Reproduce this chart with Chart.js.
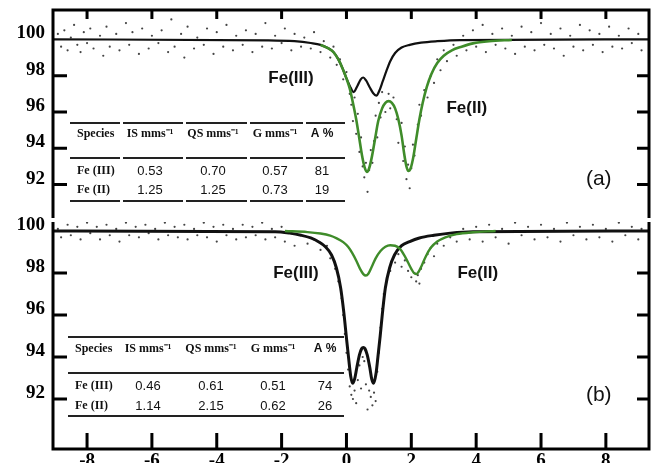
<!DOCTYPE html>
<html>
<head>
<meta charset="utf-8">
<script src="https://cdn.jsdelivr.net/npm/chart.js@4.4.0/dist/chart.umd.min.js"></script>
<style>
  html, body { margin: 0; padding: 0; background: #fff; }
  #wrap { position: relative; width: 658px; height: 463px; overflow: hidden; }
  canvas { position: absolute; left: 0; }
  #chartA { top: 0; }
  #chartB { top: 200px; }
</style>
</head>
<body>
<div id="wrap">
  <canvas id="chartA" width="658" height="222"></canvas>
  <canvas id="chartB" width="658" height="263"></canvas>
</div>
<script>
// axis ticks
const velocityTicks = [-8, -6, -4, -2, 0, 2, 4, 6, 8];
const transTicks = [92, 94, 96, 98, 100];

// panel (a) fitted curves (velocity mm/s, transmission %)
const fitA_Fe3_x = [-9.05, -2.4, -1.6, -1.1, -0.8, -0.55, -0.4, -0.25, -0.12, 0.0, 0.1, 0.22, 0.34, 0.44, 0.52, 0.6, 0.72, 0.82, 0.92, 1.02, 1.12, 1.23, 1.35, 1.5, 1.7, 1.95, 2.3, 2.8, 3.5, 9.33];
const fitA_Fe3_y = [100.0, 99.95, 99.9, 99.8, 99.7, 99.5, 99.3, 98.9, 98.4, 97.85, 97.45, 97.1, 97.45, 97.8, 97.9, 97.75, 97.35, 97.05, 96.9, 97.2, 97.7, 98.25, 98.8, 99.25, 99.55, 99.7, 99.82, 99.9, 99.96, 100.0];
const fitA_Fe2_x = [-0.8, -0.55, -0.4, -0.25, -0.12, 0.0, 0.1, 0.2, 0.3, 0.4, 0.48, 0.56, 0.63, 0.7, 0.78, 0.88, 0.98, 1.1, 1.2, 1.3, 1.4, 1.5, 1.6, 1.7, 1.78, 1.85, 1.91, 1.98, 2.06, 2.15, 2.25, 2.35, 2.48, 2.62, 2.8, 3.0, 3.25, 3.55, 3.9, 4.4, 5.1];
const fitA_Fe2_y = [99.7, 99.5, 99.3, 98.9, 98.4, 97.85, 97.3, 96.5, 95.6, 94.5, 93.6, 92.95, 92.7, 92.9, 93.5, 94.5, 95.5, 96.2, 96.5, 96.6, 96.5, 96.2, 95.6, 94.7, 93.7, 93.0, 92.75, 92.9, 93.5, 94.5, 95.6, 96.5, 97.4, 98.1, 98.7, 99.1, 99.4, 99.6, 99.78, 99.9, 99.97];

// panel (b) fitted curves
const fitB_Fe3_x = [-9.05, -2.2, -1.75, -1.4, -1.1, -0.85, -0.65, -0.46, -0.31, -0.18, -0.08, 0.0, 0.07, 0.13, 0.19, 0.25, 0.32, 0.4, 0.47, 0.52, 0.57, 0.64, 0.72, 0.78, 0.84, 0.91, 0.97, 1.04, 1.11, 1.2, 1.33, 1.48, 1.7, 1.95, 2.25, 2.7, 3.2, 3.9, 9.33];
const fitB_Fe3_y = [100.0, 99.97, 99.9, 99.8, 99.67, 99.48, 99.25, 98.86, 98.24, 97.3, 96.1, 94.9, 93.9, 93.1, 92.75, 92.95, 93.5, 94.1, 94.4, 94.45, 94.4, 94.1, 93.5, 92.95, 92.75, 93.2, 94.0, 95.0, 96.1, 97.3, 98.24, 98.86, 99.3, 99.5, 99.67, 99.8, 99.9, 99.97, 100.0];
const fitB_Fe2_x = [-1.9, -1.2, -0.8, -0.5, -0.3, -0.1, 0.05, 0.18, 0.3, 0.42, 0.52, 0.6, 0.68, 0.78, 0.9, 1.05, 1.2, 1.35, 1.5, 1.65, 1.78, 1.9, 2.0, 2.08, 2.15, 2.22, 2.32, 2.45, 2.6, 2.8, 3.05, 3.4, 3.9, 4.6];
const fitB_Fe2_y = [100.0, 99.95, 99.88, 99.78, 99.65, 99.47, 99.25, 98.95, 98.6, 98.2, 97.95, 97.88, 97.98, 98.3, 98.7, 99.05, 99.25, 99.32, 99.3, 99.15, 98.85, 98.5, 98.2, 98.0, 97.95, 98.05, 98.35, 98.8, 99.2, 99.5, 99.7, 99.85, 99.94, 100.0];

const rawA = [[-8.9,100.3],[-8.8,99.6],[-8.7,100.5],[-8.6,99.4],[-8.5,100.1],[-8.4,100.8],[-8.3,99.7],[-8.2,99.3],[-8.1,100.4],[-8.0,99.8],[-7.9,100.6],[-7.8,99.5],[-7.6,100.2],[-7.5,99.1],[-7.4,100.7],[-7.3,99.6],[-7.1,100.3],[-7.0,99.4],[-6.8,100.9],[-6.7,99.7],[-6.6,100.4],[-6.4,99.2],[-6.3,100.6],[-6.1,99.5],[-6.0,100.2],[-5.8,99.8],[-5.7,100.5],[-5.5,99.3],[-5.4,101.1],[-5.3,99.6],[-5.1,100.3],[-5.0,99.0],[-4.9,100.7],[-4.7,99.5],[-4.6,100.1],[-4.4,99.7],[-4.3,100.6],[-4.1,99.2],[-4.0,100.4],[-3.8,99.6],[-3.7,100.8],[-3.5,99.4],[-3.4,100.2],[-3.2,99.7],[-3.1,100.5],[-2.9,99.3],[-2.8,100.3],[-2.6,99.6],[-2.5,100.9],[-2.3,99.5],[-2.2,100.2],[-2.0,99.8],[-1.9,100.6],[-1.7,99.4],[-1.6,100.3],[-1.4,99.6],[-1.3,100.1],[-1.1,99.5],[-1.0,100.4],[-0.8,99.3],[-0.7,99.9],[-0.5,99.0],[-0.4,99.6],[-0.3,98.6],[-0.2,98.9],[-0.1,97.8],[0.0,98.2],[0.1,97.0],[0.15,96.4],[0.2,95.5],[0.25,96.8],[0.3,94.8],[0.35,95.9],[0.4,93.8],[0.45,94.6],[0.5,93.0],[0.55,92.4],[0.6,93.2],[0.65,91.6],[0.7,92.8],[0.75,93.9],[0.8,93.2],[0.85,94.4],[0.9,95.8],[0.95,94.6],[1.0,96.5],[1.05,95.7],[1.1,97.1],[1.2,96.0],[1.3,97.0],[1.35,96.2],[1.45,96.8],[1.55,95.6],[1.6,94.3],[1.7,95.4],[1.75,93.3],[1.8,94.1],[1.85,92.3],[1.9,93.1],[1.95,91.8],[2.0,92.9],[2.05,94.2],[2.1,93.6],[2.2,95.3],[2.25,96.4],[2.3,95.8],[2.4,97.2],[2.5,96.8],[2.6,98.0],[2.7,97.6],[2.8,98.9],[2.9,98.3],[3.0,99.4],[3.1,98.8],[3.3,99.7],[3.4,99.1],[3.6,100.2],[3.7,99.4],[3.9,100.5],[4.0,99.6],[4.2,100.8],[4.3,99.3],[4.5,100.3],[4.6,99.7],[4.8,100.6],[4.9,99.5],[5.1,100.2],[5.2,99.2],[5.4,100.7],[5.5,99.6],[5.7,100.4],[5.8,99.4],[6.0,100.9],[6.1,99.7],[6.3,100.3],[6.4,99.5],[6.6,100.6],[6.7,99.1],[6.9,100.2],[7.0,99.6],[7.2,100.8],[7.3,99.4],[7.5,100.5],[7.6,99.7],[7.8,100.3],[7.9,99.3],[8.1,100.7],[8.2,99.6],[8.4,100.2],[8.5,99.5],[8.7,100.6],[8.8,99.8],[9.0,100.3],[9.1,99.4]];
const rawB = [[-8.9,100.1],[-8.8,99.7],[-8.6,100.3],[-8.5,99.8],[-8.3,100.2],[-8.2,99.6],[-8.0,100.4],[-7.9,99.9],[-7.7,100.2],[-7.6,99.6],[-7.4,100.3],[-7.3,99.8],[-7.1,100.1],[-7.0,99.5],[-6.8,100.4],[-6.7,99.8],[-6.5,100.2],[-6.4,99.7],[-6.2,100.3],[-6.1,99.9],[-5.9,100.1],[-5.8,99.6],[-5.6,100.4],[-5.5,99.8],[-5.3,100.2],[-5.2,99.7],[-5.0,100.3],[-4.9,99.6],[-4.7,100.1],[-4.6,99.8],[-4.4,100.4],[-4.3,99.7],[-4.1,100.2],[-4.0,99.5],[-3.8,100.3],[-3.7,99.8],[-3.5,100.1],[-3.4,99.6],[-3.2,100.3],[-3.1,99.7],[-2.9,100.2],[-2.8,99.8],[-2.6,100.4],[-2.5,99.6],[-2.3,100.1],[-2.2,99.7],[-2.0,100.2],[-1.9,99.5],[-1.7,99.9],[-1.6,99.3],[-1.4,99.8],[-1.2,99.4],[-1.0,99.6],[-0.8,99.1],[-0.6,99.3],[-0.5,98.7],[-0.35,98.2],[-0.25,97.6],[-0.15,96.8],[-0.1,96.0],[-0.05,95.1],[0.0,94.2],[0.05,93.4],[0.1,92.6],[0.15,92.2],[0.2,92.0],[0.25,92.4],[0.3,91.8],[0.35,92.9],[0.4,93.6],[0.45,92.5],[0.5,94.0],[0.55,93.8],[0.6,92.7],[0.65,91.5],[0.7,92.4],[0.75,92.1],[0.8,91.7],[0.85,92.3],[0.9,91.9],[0.95,93.3],[1.0,94.2],[1.05,95.4],[1.1,96.3],[1.15,97.0],[1.25,97.7],[1.35,98.1],[1.5,98.5],[1.6,98.9],[1.7,98.3],[1.8,98.6],[1.9,98.1],[2.0,97.8],[2.1,98.0],[2.15,97.6],[2.2,97.9],[2.25,97.5],[2.3,98.2],[2.4,98.5],[2.5,98.9],[2.6,99.2],[2.7,98.8],[2.8,99.4],[3.0,99.3],[3.2,99.7],[3.4,99.5],[3.6,100.1],[3.8,99.6],[4.0,100.2],[4.2,99.5],[4.4,100.3],[4.6,99.7],[4.8,100.1],[5.0,99.4],[5.2,100.4],[5.4,99.8],[5.6,100.2],[5.8,99.6],[6.0,100.3],[6.2,99.7],[6.4,100.1],[6.6,99.5],[6.8,100.4],[7.0,99.8],[7.2,100.2],[7.4,99.6],[7.6,100.3],[7.8,99.7],[8.0,100.1],[8.2,99.5],[8.4,100.4],[8.6,99.8],[8.8,100.2],[9.0,99.6],[9.1,100.1]];

// hyperfine parameter tables
const tableHead = ["Species", "IS mms\u207B\u00B9", "QS mms\u207B\u00B9", "G mms\u207B\u00B9", "A %"];
const tableA_rows = [["Fe (III)", "0.53", "0.70", "0.57", "81"], ["Fe (II)", "1.25", "1.25", "0.73", "19"]];
const tableB_rows = [["Fe (III)", "0.46", "0.61", "0.51", "74"], ["Fe (II)", "1.14", "2.15", "0.62", "26"]];

// text labels on the plot
const notesA = [{ text: "Fe(III)", x: -1.71, y: 97.84 }, { text: "Fe(II)", x: 3.71, y: 96.22 }, { text: "(a)", x: 7.78, y: 92.32, big: true }];
const notesB = [{ text: "Fe(III)", x: -1.56, y: 98.0 }, { text: "Fe(II)", x: 4.05, y: 98.0 }, { text: "(b)", x: 7.78, y: 92.19, big: true }];

function toXY(xs, ys) {
  return xs.map((x, i) => ({ x: x, y: ys[i] }));
}

// draws frame, inward ticks, text labels and the table
const panelDecor = {
  id: "panelDecor",
  afterDatasetsDraw(chart, args, opts) {
    const ctx = chart.ctx;
    const a = chart.chartArea;
    const sx = chart.scales.x, sy = chart.scales.y;
    ctx.save();
    ctx.strokeStyle = "#000";
    ctx.lineWidth = 3;
    ctx.lineJoin = "miter";
    ctx.beginPath();
    if (opts.edge === "top") {
      ctx.moveTo(a.left, a.bottom);
      ctx.lineTo(a.left, a.top);
      ctx.lineTo(a.right, a.top);
      ctx.lineTo(a.right, a.bottom);
    } else {
      ctx.moveTo(a.left, a.top);
      ctx.lineTo(a.left, a.bottom);
      ctx.lineTo(a.right, a.bottom);
      ctx.lineTo(a.right, a.top);
    }
    ctx.stroke();

    ctx.beginPath();
    transTicks.forEach(v => {
      if (v === 100) return;
      const py = sy.getPixelForValue(v);
      ctx.moveTo(a.left, py); ctx.lineTo(a.left + 14, py);
      ctx.moveTo(a.right - 12, py); ctx.lineTo(a.right, py);
    });
    velocityTicks.forEach(v => {
      const px = sx.getPixelForValue(v);
      if (opts.edge === "top") { ctx.moveTo(px, a.top); ctx.lineTo(px, a.top + 9); }
      else { ctx.moveTo(px, a.bottom); ctx.lineTo(px, a.bottom - 16); }
    });
    ctx.stroke();

    // annotations
    ctx.fillStyle = "#111";
    ctx.textAlign = "center";
    ctx.textBaseline = "middle";
    opts.notes.forEach(n => {
      ctx.font = n.big ? '21px "Liberation Sans"' : 'bold 17px "Liberation Sans"';
      ctx.fillText(n.text, sx.getPixelForValue(n.x), sy.getPixelForValue(n.y));
    });

    // table
    const t = opts.table;
    ctx.strokeStyle = "#222";
    ctx.lineWidth = 2;
    ctx.beginPath();
    t.lines.forEach(ly => {
      t.segs.forEach(s => { ctx.moveTo(s[0], ly); ctx.lineTo(s[1], ly); });
    });
    ctx.stroke();
    tableHead.forEach((h, i) => {
      ctx.font = i === 4 ? 'bold 12px "Liberation Sans"' : 'bold 12px "Liberation Serif"';
      ctx.textAlign = i === 0 ? "left" : "center";
      ctx.fillText(h, t.cols[i], t.headY);
    });
    t.rows.forEach((row, r) => {
      row.forEach((cell, i) => {
        ctx.font = i === 0 ? 'bold 12px "Liberation Serif"' : '13px "Liberation Sans"';
        ctx.textAlign = i === 0 ? "left" : "center";
        ctx.fillText(cell, t.cols[i], t.rowY[r]);
      });
    });
    ctx.restore();
  }
};

function makeChart(id, cfg) {
  const tickFont = { family: "Liberation Serif", weight: "bold", size: 19 };
  return new Chart(document.getElementById(id), {
    type: "scatter",
    data: {
      datasets: [
        { data: cfg.green, showLine: true, pointRadius: 0, borderColor: "#3f8c2a", borderWidth: cfg.greenWidth, cubicInterpolationMode: "monotone" },
        { data: cfg.black, showLine: true, pointRadius: 0, borderColor: "#111", borderWidth: cfg.blackWidth, cubicInterpolationMode: "monotone" },
        { data: cfg.raw, pointRadius: 1.1, borderWidth: 0, backgroundColor: "#444" }
      ]
    },
    options: {
      responsive: false,
      devicePixelRatio: 1,
      animation: false,
      layout: { padding: cfg.padding },
      plugins: { legend: { display: false }, tooltip: { enabled: false }, panelDecor: cfg.decor },
      scales: {
        x: {
          type: "linear", min: -9.05, max: 9.33, display: cfg.showX,
          grid: { display: false, tickLength: 0 }, border: { display: false },
          afterBuildTicks: s => { s.ticks = velocityTicks.map(v => ({ value: v })); },
          afterFit: s => { s.height = cfg.showX ? 14 : 0; s.paddingLeft = 0; s.paddingRight = 0; },
          ticks: { autoSkip: false, maxRotation: 0, padding: 1, color: "#000", font: tickFont }
        },
        y: {
          type: "linear", min: cfg.yMin, max: cfg.yMax,
          grid: { display: false, tickLength: 0 }, border: { display: false },
          afterBuildTicks: s => { s.ticks = transTicks.map(v => ({ value: v })); },
          afterFit: s => { s.width = 53; s.paddingTop = 0; s.paddingBottom = 0; },
          ticks: { padding: 8, labelOffset: -6, color: "#000", font: tickFont }
        }
      }
    },
    plugins: [panelDecor]
  });
}

makeChart("chartA", {
  green: toXY(fitA_Fe2_x, fitA_Fe2_y),
  black: toXY(fitA_Fe3_x, fitA_Fe3_y),
  raw: rawA.map(p => ({ x: p[0], y: p[1] })),
  greenWidth: 2.6, blackWidth: 2.2,
  padding: { top: 10, right: 9, left: 0, bottom: 0 },
  showX: false, yMin: 90.16, yMax: 101.62,
  decor: {
    edge: "top", notes: notesA,
    table: {
      rows: tableA_rows, lines: [123, 158, 201],
      segs: [[70, 120], [123, 183], [186, 247], [250, 303], [306, 345]],
      cols: [77, 150, 213, 275, 322], headY: 134, rowY: [171, 190]
    }
  }
});

makeChart("chartB", {
  green: toXY(fitB_Fe2_x, fitB_Fe2_y),
  black: toXY(fitB_Fe3_x, fitB_Fe3_y),
  raw: rawB.map(p => ({ x: p[0], y: p[1] })),
  greenWidth: 2.4, blackWidth: 3,
  padding: { top: 22, right: 9, left: 0, bottom: 0 },
  showX: true, yMin: 89.62, yMax: 100.43,
  decor: {
    edge: "bottom", notes: notesB,
    table: {
      rows: tableB_rows, lines: [137, 173, 216],
      segs: [[68, 344]],
      cols: [75, 148, 211, 273, 325], headY: 149, rowY: [186, 206]
    }
  }
});
</script>
</body>
</html>
